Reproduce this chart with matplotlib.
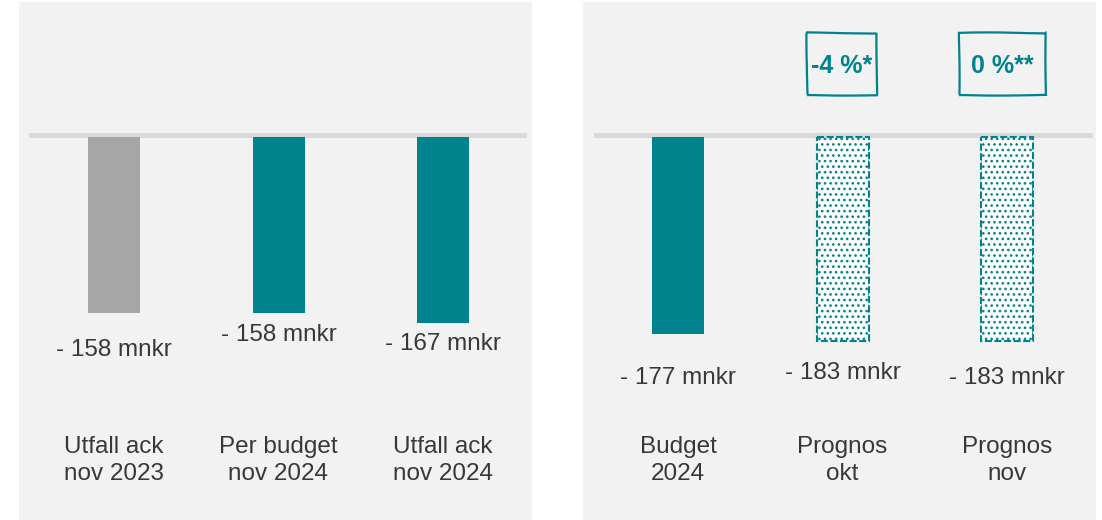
import matplotlib
matplotlib.use('Agg')
import matplotlib.pyplot as plt
from matplotlib.patches import Rectangle
from matplotlib.transforms import blended_transform_factory, IdentityTransform

plt.rcParams['font.family'] = ['Liberation Sans', 'DejaVu Sans']
plt.rcParams['hatch.linewidth'] = 1.1

TEAL = '#00838c'
GREY_BAR = '#a6a6a6'
PANEL = '#f2f2f2'
ZERO_LINE = '#d9d9d9'
TEXT = '#383838'

# result so far this year (mnkr)
left_cats = ['Utfall ack\nnov 2023', 'Per budget\nnov 2024', 'Utfall ack\nnov 2024']
left_vals = [-158, -158, -167]
left_colors = [GREY_BAR, TEAL, TEAL]

# full year budget and forecasts (mnkr)
right_cats = ['Budget\n2024', 'Prognos\nokt', 'Prognos\nnov']
right_vals = [-177, -183, -183]
right_hatched = [False, True, True]
right_change = [None, '-4 %*', '0 %**']

W, H = 1102, 520
PX_PER_MNKR = 1.114
STEP = 164.5          # px between bar centres
ZERO_PX = 137         # y pixel of the zero line (from top)

# gap between bar end and value label baseline, px
left_gaps = [43, 28, 27]
right_gaps = [50, 38, 43]


def make_panel(left_px):
    ax = fig.add_axes([left_px / W, 0, 513 / W, 518 / H])
    ax.set_facecolor(PANEL)
    ax.set_xlim(-95 / STEP, (513 - 95) / STEP)
    ax.set_ylim(-(520 - ZERO_PX) / PX_PER_MNKR, (ZERO_PX - 2) / PX_PER_MNKR)
    for s in ax.spines.values():
        s.set_visible(False)
    ax.set_xticks([])
    ax.set_yticks([])
    return ax


def finish_panel(ax, cats, vals, gaps, line_span):
    ax.axhline(2.5 / PX_PER_MNKR, xmin=line_span[0], xmax=line_span[1],
               color=ZERO_LINE, lw=3.6, zorder=1)
    for i, v in enumerate(vals):
        ax.annotate(f'- {abs(v)} mnkr', xy=(i, v), xytext=(0, -gaps[i]),
                    textcoords='offset pixels', ha='center', va='baseline',
                    fontsize=17.5, color=TEXT)
    trans = blended_transform_factory(ax.transData, ax.transAxes)
    for i, cat in enumerate(cats):
        for k, line in enumerate(cat.split('\n')):
            y_px = 453 + 27 * k
            ax.text(i, (520 - y_px) / 518, line, transform=trans,
                    ha='center', va='baseline', fontsize=17.5, color=TEXT)


fig = plt.figure(figsize=(W / 100, H / 100), dpi=100)
fig.patch.set_facecolor('white')

# left panel
ax1 = make_panel(19)
ax1.bar(range(3), left_vals, width=52 / STEP, color=left_colors, zorder=2)
finish_panel(ax1, left_cats, left_vals, left_gaps, (12 / 513, 505 / 513))

# right panel
ax2 = make_panel(583)
for i, v in enumerate(right_vals):
    if right_hatched[i]:
        ax2.bar(i, v, width=52 / STEP, color='white', edgecolor=TEAL,
                hatch='...', linestyle=(0, (3.4, 1.2)), linewidth=1.5, zorder=2)
    else:
        ax2.bar(i, v, width=52 / STEP, color=TEAL, zorder=2)
finish_panel(ax2, right_cats, right_vals, right_gaps, (13 / 513, 507 / 513))

# hand-drawn boxes with the change against budget
boxes = [None, (807, 33, 877, 95), (959, 33, 1046, 95)]
for txt, box in zip(right_change, boxes):
    if txt is None:
        continue
    x0, y0, x1, y1 = box
    rect = Rectangle((x0, H - y1), x1 - x0, y1 - y0, transform=IdentityTransform(),
                     fill=False, edgecolor=TEAL, linewidth=1.6)
    rect.set_sketch_params(scale=0.6, length=200, randomness=3)
    fig.add_artist(rect)
    fig.text(((x0 + x1) / 2) / W, 1 - 73.5 / H, txt, ha='center', va='baseline',
             fontsize=18, fontweight='bold', color=TEAL)

fig.savefig('out.png', dpi=100, facecolor='white')
